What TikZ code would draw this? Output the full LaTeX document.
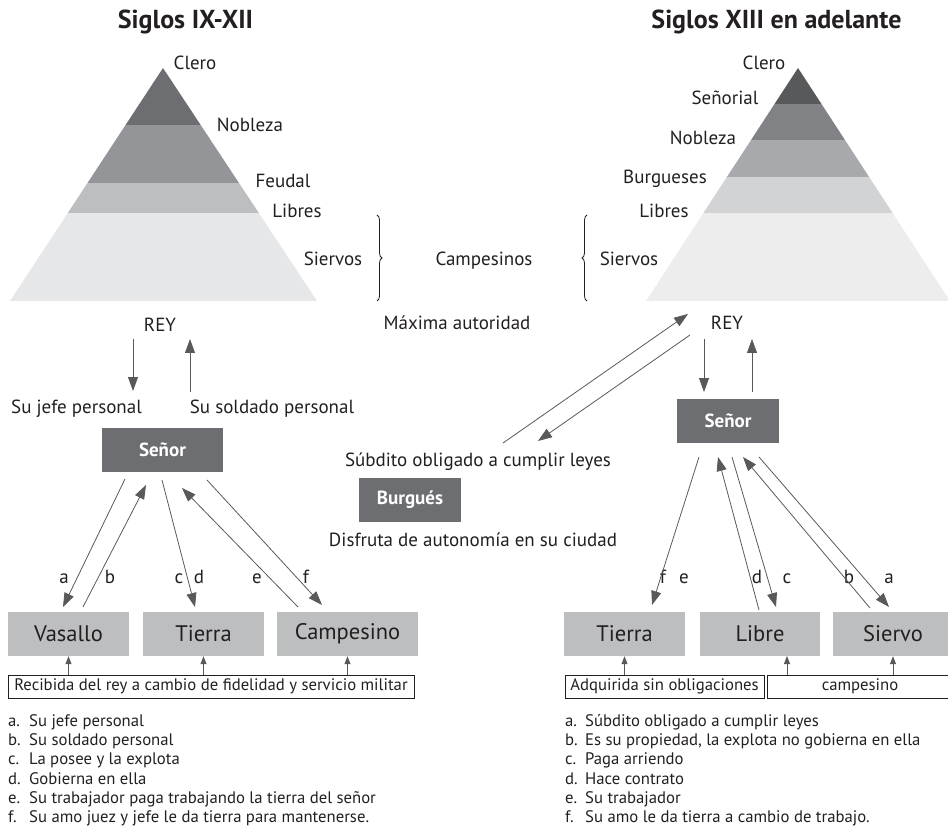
\documentclass[tikz,border=0pt]{standalone}
\usepackage{fontspec}
\setmainfont{PT Sans}
\usetikzlibrary{arrows.meta,decorations.pathreplacing}
\definecolor{ink}{HTML}{231F20}
\definecolor{lnc}{HTML}{58595B}
\definecolor{boxdk}{HTML}{6D6E71}
\definecolor{boxlt}{HTML}{BCBEC0}
\definecolor{pla}{HTML}{6D6E71}
\definecolor{plb}{HTML}{939598}
\definecolor{plc}{HTML}{BCBEC0}
\definecolor{pld}{HTML}{E6E7E8}
\definecolor{pra}{HTML}{58595B}
\definecolor{prb}{HTML}{808285}
\definecolor{prc}{HTML}{A7A9AC}
\definecolor{prd}{HTML}{D1D3D4}
\definecolor{pre}{HTML}{EDEDEE}
\newcommand\mainsz{\fontsize{19}{23}\selectfont}
\newcommand\legsz{\fontsize{16.7}{19}\selectfont}
\newcommand\boxsz{\fontsize{22.5}{26}\selectfont}
\newcommand\titsz{\fontsize{26}{30}\selectfont\bfseries}
\begin{document}
\begin{tikzpicture}[x=1pt,y=-1pt,
  lbl/.style={text=ink,inner sep=0pt,anchor=base,font=\mainsz},
  leg/.style={text=ink,inner sep=0pt,anchor=base west,font=\legsz},
  ttl/.style={text=ink,inner sep=0pt,anchor=base,font=\titsz},
  darkbox/.style={fill=boxdk,text=white,font=\mainsz\bfseries,inner sep=0pt,minimum height=44pt},
  lightbox/.style={fill=boxlt,text=ink,font=\boxsz,inner sep=0pt,minimum height=44pt},
  framebox/.style={draw=ink,line width=0.8pt,text=ink,font=\legsz,inner sep=0pt,minimum height=23pt},
  arr/.style={draw=lnc,line width=0.8pt,-{Triangle[length=14pt,width=10pt]}},
  sarr/.style={draw=lnc,line width=0.8pt,-{Triangle[length=8pt,width=6pt]}},
  brc/.style={draw=ink,line width=0.8pt,decorate,decoration={brace,amplitude=5pt}}
]
\useasboundingbox (0,0) rectangle (948,826);

% ---------- pyramids ----------
\begin{scope}
\clip (163,68) -- (10,301) -- (317,301) -- cycle;
\fill[pla] (0,60) rectangle (330,125);
\fill[plb] (0,125) rectangle (330,183);
\fill[plc] (0,183) rectangle (330,213);
\fill[pld] (0,213) rectangle (330,301);
\end{scope}
\begin{scope}
\clip (798,68) -- (646,301) -- (950,301) -- cycle;
\fill[pra] (630,60) rectangle (960,104);
\fill[prb] (630,104) rectangle (960,140);
\fill[prc] (630,140) rectangle (960,177);
\fill[prd] (630,177) rectangle (960,213);
\fill[pre] (630,213) rectangle (960,301);
\end{scope}

% ---------- titles and strata labels ----------
\node[ttl] (t1) at (185.5,28.5) {Siglos IX-XII};
\node[ttl] (t2) at (776.5,28.5) {Siglos XIII en adelante};

\node[lbl] (cl1) at (195,69.3) {Clero};
\node[lbl] (no1) at (250,131.7) {Nobleza};
\node[lbl] (fe1) at (283,187.3) {Feudal};
\node[lbl] (li1) at (297,217.3) {Libres};
\node[lbl] (si1) at (333,265.7) {Siervos};
\node[lbl] (camp) at (484,265.7) {Campesinos};
\node[lbl] (cl2) at (764,69.3) {Clero};
\node[lbl] (se2) at (725,105) {Señorial};
\node[lbl] (no2) at (703,145) {Nobleza};
\node[lbl] (bu2) at (665,183.3) {Burgueses};
\node[lbl] (li2) at (664,217.3) {Libres};
\node[lbl] (si2) at (629,265.7) {Siervos};

\coordinate (b1t) at (377,215);
\coordinate (b1b) at (377,301);
\coordinate (b2t) at (587,215);
\coordinate (b2b) at (587,301);
\draw[brc] (b1t) -- (b1b);
\draw[brc] (b2b) -- (b2t);

% ---------- middle texts ----------
\node[lbl] (rey1) at (160,331) {REY};
\node[lbl] (maxa) at (457,330) {Máxima autoridad};
\node[lbl] (rey2) at (727,330) {REY};
\node[lbl] (jefe) at (76.5,413.3) {Su jefe personal};
\node[lbl] (sold) at (272,413.3) {Su soldado personal};
\node[darkbox,minimum width=121pt] (sen1) at (162.5,450) {Señor};
\node[darkbox,minimum width=102pt] (sen2) at (728,421) {Señor};
\node[lbl] (subd) at (478,466.7) {Súbdito obligado a cumplir leyes};
\node[darkbox,minimum width=102pt] (burg) at (410,500) {Burgués};
\node[lbl] (disf) at (473,546.7) {Disfruta de autonomía en su ciudad};

% ---------- lower boxes ----------
\node[lightbox,minimum width=121pt] (vas) at (68.5,634) {Vasallo};
\node[lightbox,minimum width=121pt] (tie1) at (203.5,634) {Tierra};
\node[lightbox,minimum width=141pt] (cam) at (347.5,634) {Campesino};
\node[lightbox,minimum width=121pt] (tie2) at (624.5,634) {Tierra};
\node[lightbox,minimum width=120pt] (lib) at (760,634) {Libre};
\node[lightbox,minimum width=120pt] (sie) at (893,634) {Siervo};

\node[framebox,minimum width=406pt] (reci) at (211,686.5) {Recibida del rey a cambio de fidelidad y servicio militar};
\node[framebox,minimum width=199pt] (adq) at (664.5,686.5) {Adquirida sin obligaciones};
\node[framebox,minimum width=186pt] (cmp) at (860,686.5) {campesino};

% ---------- letters ----------
\foreach \l/\xx in {a/64,b/110,c/179,d/199,e/257,f/306,f/663,e/684,d/757,c/787,b/849,a/889}
  \node[lbl] (let-\l-\xx) at (\xx,583.3) {\l};

% ---------- connectors, left ----------
\coordinate (l1s) at (133,339); \coordinate (l1e) at (133,391);
\coordinate (l2s) at (190,392); \coordinate (l2e) at (190,339);
\draw[arr] (l1s) -- (l1e);
\draw[arr] (l2s) -- (l2e);

\coordinate (las) at (125,479); \coordinate (lae) at (63,607);
\coordinate (lbs) at (83,607);  \coordinate (lbe) at (146,485);
\coordinate (lcs) at (162,480); \coordinate (lce) at (195,607);
\coordinate (les) at (298,607); \coordinate (lee) at (182,488);
\coordinate (lfs) at (207,480); \coordinate (lfe) at (322,605);
\draw[arr] (las) -- (lae);
\draw[arr] (lbs) -- (lbe);
\draw[arr] (lcs) -- (lce);
\draw[arr] (les) -- (lee);
\draw[arr] (lfs) -- (lfe);

\draw[sarr] (reci.north -| vas.south) -- (vas.south);
\draw[sarr] (reci.north -| tie1.south) -- (tie1.south);
\draw[sarr] (reci.north -| cam.south) -- (cam.south);

% ---------- connectors, right ----------
\coordinate (d1s) at (503,443); \coordinate (d1e) at (688,314);
\coordinate (d2s) at (690,335); \coordinate (d2e) at (538,441);
\draw[arr] (d1s) -- (d1e);
\draw[arr] (d2s) -- (d2e);
\coordinate (r1s) at (704,339); \coordinate (r1e) at (704,392);
\coordinate (r2s) at (752,392); \coordinate (r2e) at (752,339);
\draw[arr] (r1s) -- (r1e);
\draw[arr] (r2s) -- (r2e);

\coordinate (rfs) at (699,457); \coordinate (rfe) at (652,605);
\coordinate (rds) at (759,610); \coordinate (rde) at (718,457);
\coordinate (rcs) at (732,457); \coordinate (rce) at (776,607);
\coordinate (rbs) at (870,608); \coordinate (rbe) at (743,457);
\coordinate (ras) at (759,457); \coordinate (rae) at (889,607);
\draw[arr] (rfs) -- (rfe);
\draw[arr] (rds) -- (rde);
\draw[arr] (rcs) -- (rce);
\draw[arr] (rbs) -- (rbe);
\draw[arr] (ras) -- (rae);

\coordinate (libx) at (787,656);
\draw[sarr] (adq.north -| tie2.south) -- (tie2.south);
\draw[sarr] (cmp.north -| libx) -- (libx);
\draw[sarr] (cmp.north -| sie.south) -- (sie.south);

% ---------- legends ----------
\foreach \i/\l/\t in {0/a/Su jefe personal,1/b/Su soldado personal,2/c/La posee y la explota,3/d/Gobierna en ella,4/e/Su trabajador paga trabajando la tierra del señor,5/f/Su amo juez y jefe le da tierra para mantenerse.}{
  \node[leg] (lla\i) at (8,726.7+19.1*\i) {\l.};
  \node[leg] (llt\i) at (29,726.7+19.1*\i) {\t};
}
\foreach \i/\l/\t in {0/a/Súbdito obligado a cumplir leyes,1/b/{Es su propiedad, la explota no gobierna en ella},2/c/Paga arriendo,3/d/Hace contrato,4/e/Su trabajador,5/f/Su amo le da tierra a cambio de trabajo.}{
  \node[leg] (lra\i) at (565,726.7+19.1*\i) {\l.};
  \node[leg] (lrt\i) at (585,726.7+19.1*\i) {\t};
}
\end{tikzpicture}
\end{document}
